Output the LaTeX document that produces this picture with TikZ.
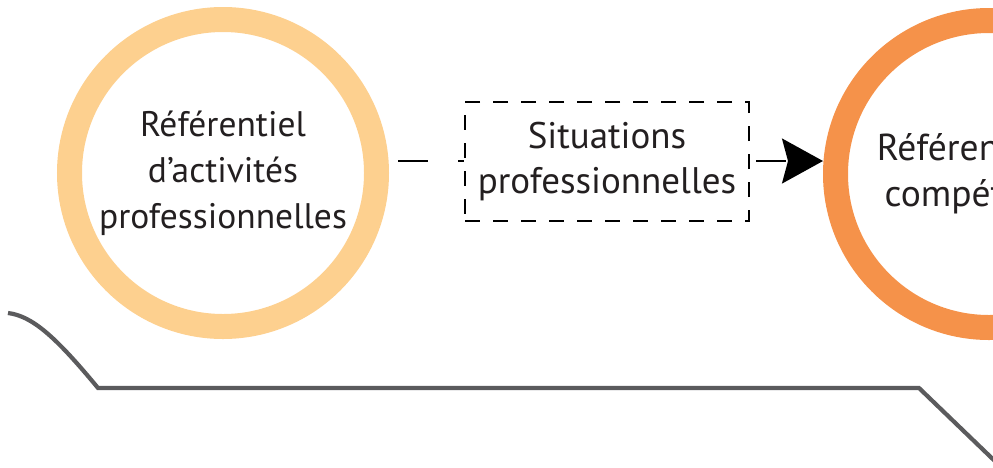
\documentclass[tikz,border=0pt]{standalone}
\usepackage{fontspec}
\setmainfont{PT Sans}
\usetikzlibrary{arrows.meta}
\definecolor{ringlight}{HTML}{FDD08F}
\definecolor{ringdark}{HTML}{F5924A}
\definecolor{railgray}{HTML}{5B5B5D}
\definecolor{inktext}{HTML}{231F20}
\begin{document}
\begin{tikzpicture}[x=1pt,y=-1pt,
  ring/.style={circle, draw, line width=25pt, minimum size=307pt, inner sep=0pt,
    align=center, text=inktext, font=\fontsize{35.5}{46}\selectfont},
  dashbox/.style={draw=black, line width=2pt, dash pattern=on 15pt off 13pt,
    minimum width=284pt, minimum height=119pt, inner sep=0pt, align=center,
    text=inktext, font=\fontsize{37}{45}\selectfont},
  link/.style={draw=black, line width=2pt, dash pattern=on 30pt off 30pt},
  rail/.style={draw=railgray, line width=4.2pt, line join=miter}
]
\useasboundingbox (0,0) rectangle (993,467);
\clip (0,0) rectangle (993,467);

% the two reference rings
\node[ring, draw=ringlight] (act) at (223,173)
  {Référentiel\\d’activités\\professionnelles};
\node[ring, draw=ringdark, font=\fontsize{37.5}{46}\selectfont] (comp) at (989,174)
  {Référentiel de\\compétences};

% dashed box in between
\node[dashbox] (sit) at (607,161.5) {Situations\\professionnelles};

% connectors
\coordinate (a1) at ([xshift=9pt]act.east |- 0,161);
\coordinate (s1) at (sit.west |- 0,161);
\coordinate (s2) at ([xshift=6pt]sit.east |- 0,161);
\coordinate (c1) at (comp.west |- 0,161);
\path[link] (a1) -- (s1);
\path[link, -{Stealth[length=41pt, width=45pt, inset=6pt]}] (s2) -- (c1);

% grey rail underneath
\coordinate (r0) at (8,313);
\coordinate (r1) at (98,388);
\coordinate (r2) at (919,388);
\coordinate (r3) at (1000,466);
\path[rail] (r0) .. controls (32,316) and (55,336) .. (r1) -- (r2) -- (r3);
\end{tikzpicture}
\end{document}
